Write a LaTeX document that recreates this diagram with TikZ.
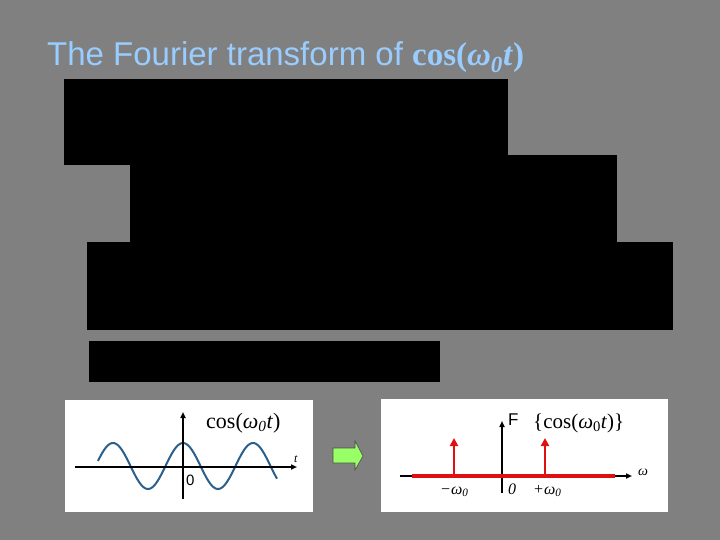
\documentclass[tikz,border=0pt]{standalone}
\usepackage{fontspec}
\setmainfont{Liberation Serif}
\setsansfont{Liberation Sans}
\usetikzlibrary{arrows.meta}
\definecolor{bggray}{HTML}{808080}
\definecolor{titleblue}{HTML}{99CCFF}
\definecolor{wave}{HTML}{2B5F8C}
\definecolor{spikered}{HTML}{E01010}
\definecolor{arrgreen}{HTML}{99FF66}
\tikzset{
  blackbox/.style={fill=black, draw=none},
  panel/.style={fill=white, draw=none},
  axisline/.style={line width=1.6pt, -{Triangle[length=6pt,width=5pt]}},
  spike/.style={spikered, line width=2.4pt, -{Triangle[length=8pt,width=8pt]}},
  lbl/.style={inner sep=0pt, anchor=base west},
}
\begin{document}
\begin{tikzpicture}[x=1pt,y=-1pt]
\fill[bggray] (0,0) rectangle (720,540);
\useasboundingbox (0,0) rectangle (720,540);
% title
\node[lbl, text=titleblue] (title) at (47,66)
  {\fontsize{33}{36}\selectfont\sffamily The Fourier transform of \rmfamily\bfseries cos(\textit{ω\textsubscript{0}t})};
% redaction boxes
\fill[blackbox] (64,79) rectangle (508,165);
\fill[blackbox] (130,155) rectangle (617,243);
\fill[blackbox] (87,242) rectangle (673,330);
\fill[blackbox] (89,341) rectangle (440,382);
% left panel
\fill[panel] (65,400) rectangle (313,512);
\coordinate (lxs) at (75,467);
\coordinate (lxe) at (297,467);
\coordinate (lys) at (183,499);
\coordinate (lye) at (183,412);
\draw[wave, line width=2pt, domain=98:277, samples=120, smooth]
  plot (\x, {466 - 23*cos((\x-183)*5.142857)});
\draw[axisline] (lxs) -- (lxe);
\draw[axisline] (lys) -- (lye);
\node[lbl] (lt) at (294,462) {\fontsize{12}{14}\selectfont\itshape t};
\node[lbl] (l0) at (186,485) {\fontsize{15}{17}\selectfont\sffamily 0};
\node[lbl] (lcos) at (206,428) {\fontsize{22}{24}\selectfont cos(\textit{ω\textsubscript{0}t})};
% green arrow
\draw[fill=arrgreen, draw=black!70, line width=0.6pt]
  (333,448) -- (355,448) -- (355,441) -- (363,456) -- (355,470) -- (355,463) -- (333,463) -- cycle;
% right panel
\fill[panel] (381,399) rectangle (668,512);
\coordinate (rxs) at (400,476);
\coordinate (rxe) at (632,476);
\coordinate (rys) at (502,493);
\coordinate (rye) at (502,421);
\draw[axisline] (rxs) -- (rxe);
\draw[axisline] (rys) -- (rye);
\coordinate (rs) at (412,476);
\coordinate (re) at (615,476);
\draw[spikered, line width=4pt] (rs) -- (re);
\coordinate (s1b) at (454,476);
\coordinate (s1t) at (454,438);
\coordinate (s2b) at (545,476);
\coordinate (s2t) at (545,438);
\draw[spike] (s1b) -- (s1t);
\draw[spike] (s2b) -- (s2t);
\node[lbl] (rF) at (508,425) {\fontsize{17}{19}\selectfont\sffamily F};
\node[lbl] (rcos) at (533,428) {\fontsize{21}{23}\selectfont\{cos(\textit{ω}\textsubscript{0}\textit{t})\}};
\node[lbl] (rw) at (638,475) {\fontsize{14}{16}\selectfont\itshape ω};
\node[lbl] (rm) at (440,494) {\fontsize{16}{18}\selectfont\itshape −ω\textsubscript{0}};
\node[lbl] (r0) at (508,494) {\fontsize{16}{18}\selectfont\itshape 0};
\node[lbl] (rp) at (533,494) {\fontsize{16}{18}\selectfont\itshape +ω\textsubscript{0}};
\end{tikzpicture}
\end{document}
